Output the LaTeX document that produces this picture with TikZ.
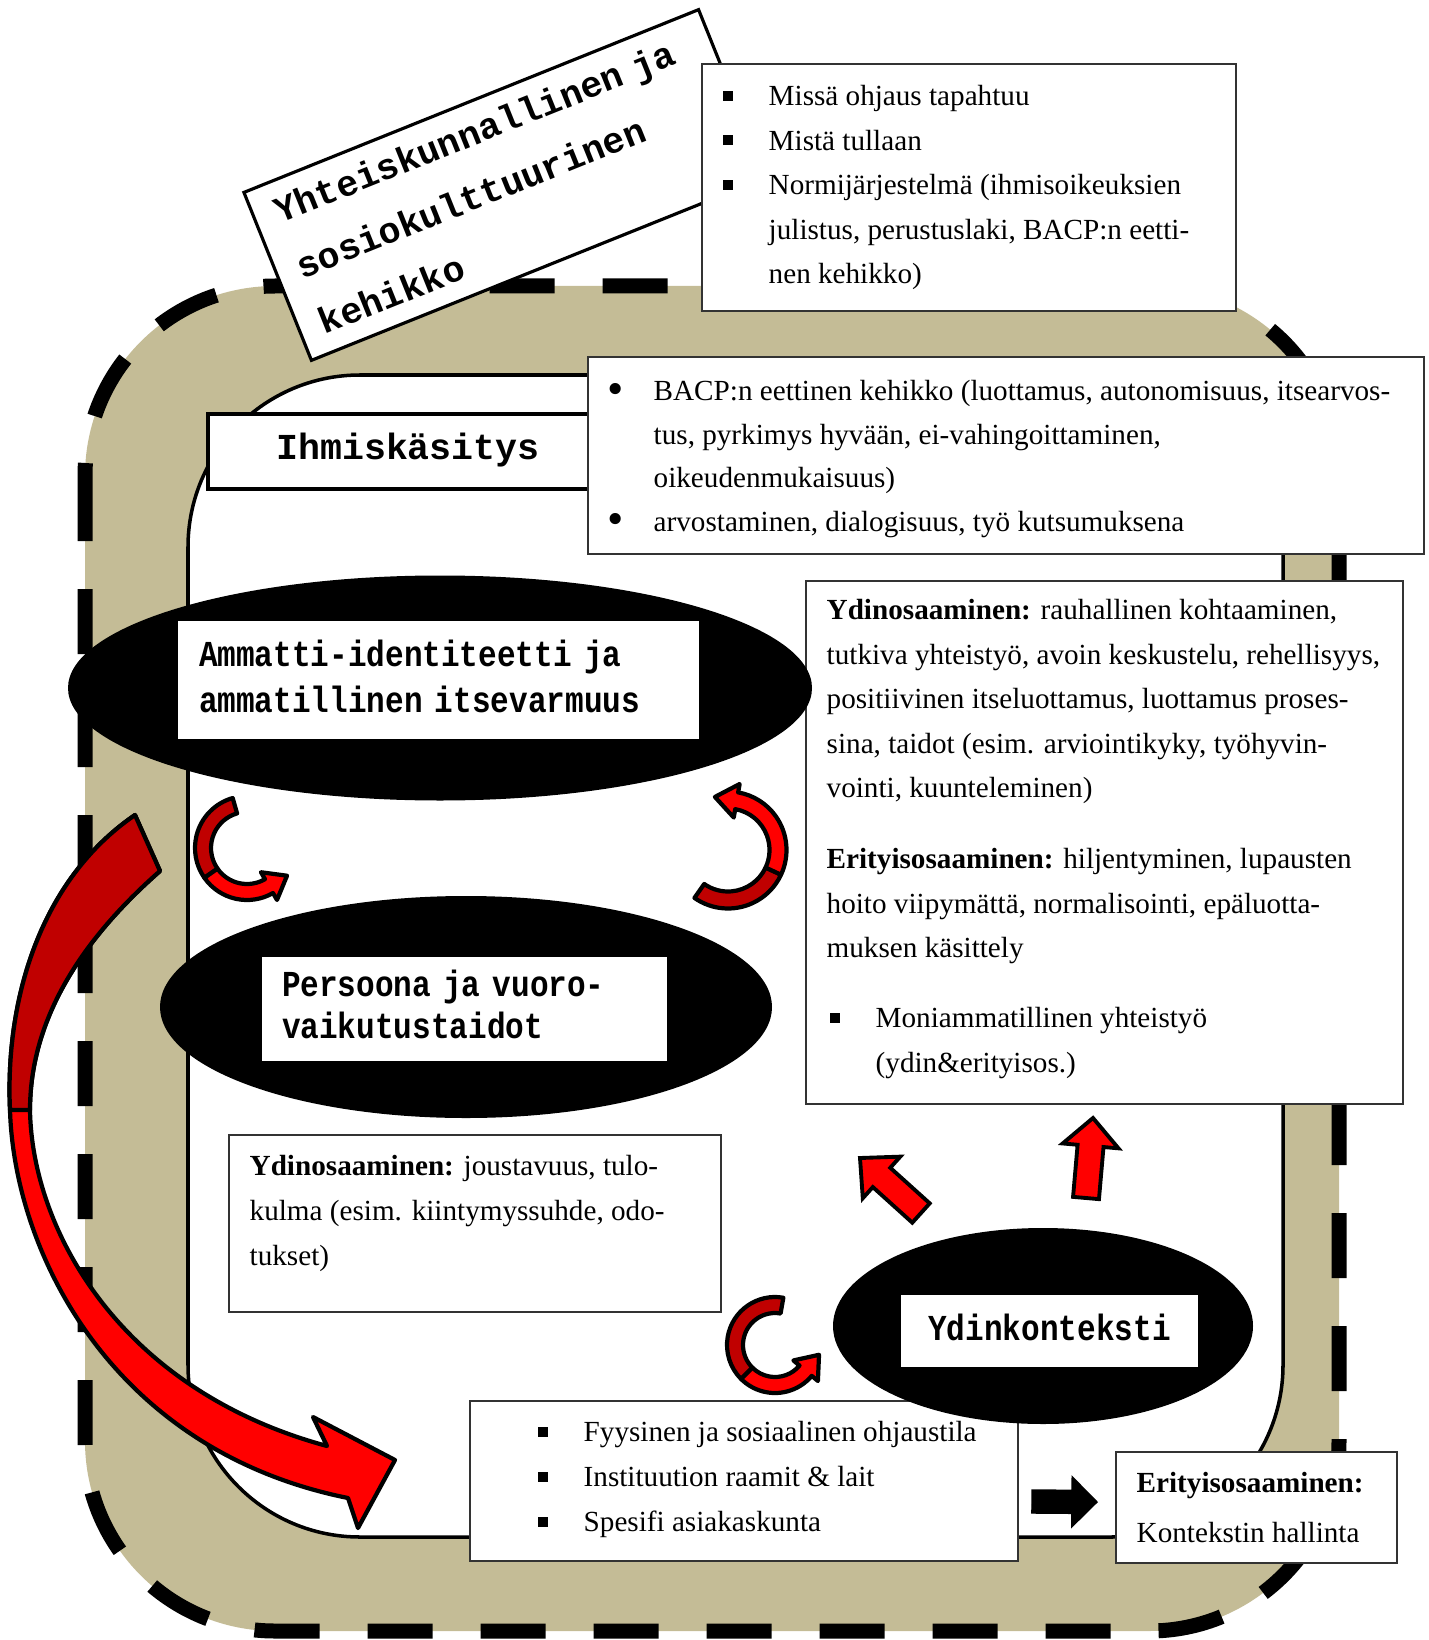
\documentclass[tikz,border=0pt]{standalone}
\usepackage{fontspec}
\usepackage{graphicx}
\setmainfont{Liberation Serif}
\newfontfamily\framemono{Liberation Mono}
\newfontfamily\headmono[FakeStretch=0.85]{Liberation Mono}
\usetikzlibrary{calc, shapes.geometric}

\definecolor{frametan}{RGB}{196,188,150}
\definecolor{darkred}{RGB}{192,0,0}
\definecolor{brightred}{RGB}{255,0,0}

% bullets of the text boxes
\newcommand{\sqbullet}{\rule[0.05cm]{0.1cm}{0.1cm}}
\newcommand{\sqitem}{\makebox[0.46cm][l]{\sqbullet}}
\newcommand{\dotitem}{\makebox[0.46cm][l]{\raisebox{-0.035cm}{\scalebox{1.6}{\textbullet}}}}
\newcommand{\itemgap}{\hspace*{0.46cm}}

% curled arrow: centre, x radius, y radius, half width, start, split, end angle
\newcommand{\bendarrow}[7]{%
    \pgfmathsetmacro{\bxo}{#2+#4}\pgfmathsetmacro{\byo}{#3+#4}%
    \pgfmathsetmacro{\bxi}{#2-#4}\pgfmathsetmacro{\byi}{#3-#4}%
    \pgfmathsetmacro{\bxh}{#2+2*#4}\pgfmathsetmacro{\byh}{#3+2*#4}%
    \pgfmathsetmacro{\bxj}{#2-2*#4}\pgfmathsetmacro{\byj}{#3-2*#4}%
    \pgfmathsetmacro{\btan}{atan2((#3)*cos(#7), -(#2)*sin(#7))}%
    \pgfmathsetmacro{\btip}{2.6*#4}%
    \filldraw[curlarrow, fill = darkred] ($(#1) + ({#5}:{\bxo cm} and {\byo cm})$)
        arc[start angle = #5, end angle = #6, x radius = \bxo, y radius = \byo]
        -- ($(#1) + ({#6}:{\bxi cm} and {\byi cm})$)
        arc[start angle = #6, end angle = #5, x radius = \bxi, y radius = \byi] -- cycle;
    \filldraw[curlarrow, fill = brightred] ($(#1) + ({#6}:{\bxo cm} and {\byo cm})$)
        arc[start angle = #6, end angle = #7, x radius = \bxo, y radius = \byo]
        -- ($(#1) + ({#7}:{\bxh cm} and {\byh cm})$)
        -- ($(#1) + ({#7}:{#2cm} and {#3cm}) + ({\btan}:{\btip cm})$)
        -- ($(#1) + ({#7}:{\bxj cm} and {\byj cm})$)
        -- ($(#1) + ({#7}:{\bxi cm} and {\byi cm})$)
        arc[start angle = #7, end angle = #6, x radius = \bxi, y radius = \byi] -- cycle;
}

% straight block arrow: style, tail, tip, shaft half width, head half width, head length
\newcommand{\blockarrow}[6]{%
    \coordinate (headbase) at ($(#3)!#6!(#2)$);
    \filldraw[#1] ($(#2)!#4!90:(#3)$) -- ($(headbase)!#4!-90:(#2)$) -- ($(headbase)!#5!-90:(#2)$)
        -- (#3) -- ($(headbase)!#5!90:(#2)$) -- ($(headbase)!#4!90:(#2)$) -- ($(#2)!#4!-90:(#3)$) -- cycle;
}

\tikzset{
    textbox/.style = {draw = black!80, line width = 0.5pt, fill = white, inner sep = 0pt, anchor = north west},
    bodytext/.style = {inner sep = 0pt, anchor = north west, align = left, font = {\fontsize{8.3pt}{0.445cm}\selectfont}},
    headbox/.style = {fill = white, inner sep = 0pt, font = {\headmono\bfseries\fontsize{10.4pt}{0.46cm}\selectfont}},
    blackoval/.style = {ellipse, fill = black, inner sep = 0pt},
    curlarrow/.style = {draw = black, line width = 1.2pt, line join = round},
    straightred/.style = {fill = brightred, draw = black, line width = 1.1pt},
}

\begin{document}
\begin{tikzpicture}
    \useasboundingbox (+0.000, +0.000) rectangle (+14.280, -16.400);

    % === Frames ===
    % Outer dashed frame
    \filldraw[fill = frametan, draw = black, line width = 0.15cm, dash pattern = on 0.65cm off 0.48cm,
    rounded corners = 1.9cm] (+0.850, -2.860) rectangle (+13.390, -16.310);

    % Inner frame
    \filldraw[fill = white, draw = black, line width = 1pt, rounded corners = 1.72cm]
    (+1.880, -3.750) rectangle (+12.830, -15.370);

    % Frame label
    \node[draw = black, line width = 0.9pt, fill = white, rotate = 21.9, minimum width = 4.90cm,
    minimum height = 1.81cm, text width = 4.46cm, inner xsep = 0.22cm, inner ysep = 0pt, align = left,
    font = {\framemono\bfseries\fontsize{10.4pt}{0.6cm}\selectfont}] (framelabel) at (+5.050, -1.850)
    {\strut Yhteiskunnallinen ja\\ sosiokulttuurinen\\ kehikko\strut};

    % Where
    \node[textbox, minimum width = 5.34cm, minimum height = 2.47cm] (placebox) at (+7.010, -0.630) {};
    \node[bodytext] (placetext) at ($(placebox.north west) + (+0.210, -0.109)$)
    {\strut\sqitem Missä ohjaus tapahtuu\\ \sqitem Mistä tullaan\\ \sqitem Normijärjestelmä (ihmisoikeuksien\\
    \itemgap julistus, perustuslaki, BACP:n eetti-\\ \itemgap nen kehikko)};

    % === Conception of man ===
    \node[draw = black, line width = 0.9pt, fill = white, minimum width = 4.00cm, minimum height = 0.75cm,
    inner sep = 0pt, font = {\framemono\bfseries\fontsize{10.4pt}{0.42cm}\selectfont}] (humanbox)
    at (+4.080, -4.515) {\strut Ihmiskäsitys};

    \node[textbox, minimum width = 8.36cm, minimum height = 1.97cm] (valuebox) at (+5.870, -3.560) {};
    \node[bodytext, font = {\fontsize{8.3pt}{0.435cm}\selectfont}] (valuetext)
    at ($(valuebox.north west) + (+0.200, -0.135)$)
    {\strut\dotitem BACP:n eettinen kehikko (luottamus, autonomisuus, itsearvos-\\
    \itemgap tus, pyrkimys hyvään, ei-vahingoittaminen,\\ \itemgap oikeudenmukaisuus)\\
    \dotitem arvostaminen, dialogisuus, työ kutsumuksena};

    % === Skills ===
    \node[textbox, minimum width = 5.97cm, minimum height = 5.23cm] (skillbox) at (+8.050, -5.800) {};
    \node[bodytext] (skilltext) at ($(skillbox.north west) + (+0.210, -0.078)$)
    {\strut\textbf{Ydinosaaminen:} rauhallinen kohtaaminen,\\ tutkiva yhteistyö, avoin keskustelu, rehellisyys,\\
    positiivinen itseluottamus, luottamus proses-\\ sina, taidot (esim. arviointikyky, työhyvin-\\
    vointi, kuunteleminen)\\[0.265cm] \textbf{Erityisosaaminen:} hiljentyminen, lupausten\\
    hoito viipymättä, normalisointi, epäluotta-\\ muksen käsittely\\[0.255cm]
    \hspace*{0.03cm}\sqitem Moniammatillinen yhteistyö\\ \hspace*{0.49cm}(ydin\&erityisos.)};

    % === Ovals ===
    % Professional identity
    \node[blackoval, minimum width = 7.44cm, minimum height = 2.25cm] (identityoval) at (+4.400, -6.880) {};
    \node[headbox, minimum width = 5.21cm, minimum height = 1.18cm, text width = 4.79cm, inner xsep = 0.21cm,
    align = left] (identitybox) at (+4.385, -6.800) {\strut Ammatti-identiteetti ja\\ ammatillinen itsevarmuus\strut};

    % Persona
    \node[blackoval, minimum width = 6.12cm, minimum height = 2.22cm] (personaoval) at (+4.660, -10.070) {};
    \node[headbox, minimum width = 4.05cm, minimum height = 1.04cm, text width = 3.65cm, inner xsep = 0.20cm,
    align = left, font = {\headmono\bfseries\fontsize{10.4pt}{0.42cm}\selectfont}] (personabox)
    at (+4.645, -10.090) {\strut Persoona ja vuoro-\\ vaikutustaidot\strut};

    \node[textbox, minimum width = 4.92cm, minimum height = 1.77cm] (basicbox) at (+2.280, -11.340) {};
    \node[bodytext, font = {\fontsize{8.3pt}{0.45cm}\selectfont}] (basictext)
    at ($(basicbox.north west) + (+0.210, -0.095)$)
    {\strut\textbf{Ydinosaaminen:} joustavuus, tulo-\\ kulma (esim. kiintymyssuhde, odo-\\ tukset)};

    % === Red arrows ===
    \coordinate (leftcurl) at (+2.470, -8.480);
    \bendarrow{leftcurl}{0.44}{0.44}{0.08}{106}{215}{300}
    \coordinate (rightcurl) at (+7.280, -8.500);
    \bendarrow{rightcurl}{0.50}{0.50}{0.085}{235}{335}{440}
    \coordinate (lowcurl) at (+7.750, -13.450);
    \bendarrow{lowcurl}{0.40}{0.40}{0.08}{80}{225}{320}

    \coordinate (slanttail) at (+9.210, -12.130); \coordinate (slanttip) at (+8.600, -11.580);
    \blockarrow{straightred}{slanttail}{slanttip}{0.13cm}{0.28cm}{0.29cm}
    \coordinate (uptail) at (+10.860, -11.980); \coordinate (uptip) at (+10.930, -11.180);
    \blockarrow{straightred}{uptail}{uptip}{0.13cm}{0.28cm}{0.28cm}

    % === Context ===
    \node[textbox, minimum width = 5.48cm, minimum height = 1.60cm] (settingbox) at (+4.690, -14.000) {};
    \node[bodytext, font = {\fontsize{8.3pt}{0.45cm}\selectfont}] (settingtext)
    at ($(settingbox.north west) + (+0.680, -0.095)$)
    {\strut\sqitem Fyysinen ja sosiaalinen ohjaustila\\ \sqitem Instituution raamit \& lait\\
    \sqitem Spesifi asiakaskunta};

    \node[blackoval, minimum width = 4.20cm, minimum height = 1.96cm] (contextoval) at (+10.430, -13.260) {};
    \node[headbox, minimum width = 2.97cm, minimum height = 0.72cm] (contextbox) at (+10.495, -13.310)
    {\strut Ydinkonteksti};

    \node[textbox, minimum width = 2.81cm, minimum height = 1.11cm] (specialbox) at (+11.150, -14.510) {};
    \node[bodytext, font = {\fontsize{8.3pt}{0.5cm}\selectfont}] (specialtext)
    at ($(specialbox.north west) + (+0.210, -0.060)$) {\strut\textbf{Erityisosaaminen:}\\ Kontekstin hallinta};

    \coordinate (contexttail) at (+10.320, -15.015); \coordinate (contexttip) at (+10.970, -15.020);
    \blockarrow{fill = black, draw = black}{contexttail}{contexttip}{0.115cm}{0.25cm}{0.25cm}

    % Big curved arrow
    \filldraw[curlarrow, fill = brightred] (+1.350, -8.150) .. controls (+0.400, -8.800) and (+0.050, -10.000)
    .. (+0.100, -11.100) .. controls (+0.140, -12.500) and (+1.100, -14.500) .. (+3.480, -14.980)
    -- (+3.580, -15.280) -- (+3.950, -14.600) -- (+3.130, -14.170) -- (+3.270, -14.460)
    .. controls (+1.200, -13.900) and (+0.320, -12.300) .. (+0.300, -11.100)
    .. controls (+0.300, -10.300) and (+0.700, -9.500) .. (+1.600, -8.710) -- cycle;
    \filldraw[curlarrow, fill = darkred] (+1.350, -8.150) .. controls (+0.400, -8.800) and (+0.050, -10.000)
    .. (+0.100, -11.100) -- (+0.300, -11.100)
    .. controls (+0.300, -10.300) and (+0.700, -9.500) .. (+1.600, -8.710) -- cycle;
\end{tikzpicture}
\end{document}
